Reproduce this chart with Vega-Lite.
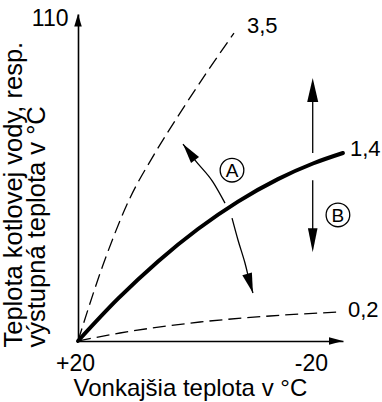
{
  "$schema": "https://vega.github.io/schema/vega-lite/v6.json",
  "width": 265,
  "height": 327,
  "autosize": {"type": "none"},
  "padding": {"left": 78, "top": 14, "right": 39, "bottom": 61},
  "background": "white",
  "config": {"view": {"stroke": null}, "font": "Liberation Sans"},
  "datasets": {
    "curves": [
      {"c": "3,5", "t": 20, "v": 20}, {"c": "3,5", "t": 15.71, "v": 41.21}, {"c": "3,5", "t": 11.24, "v": 59.35}, {"c": "3,5", "t": 6.78, "v": 72.47}, {"c": "3,5", "t": 2.49, "v": 83.63}, {"c": "3,5", "t": -2.15, "v": 95.08}, {"c": "3,5", "t": -6.78, "v": 105.96},
      {"c": "1,4", "t": 20, "v": 20}, {"c": "1,4", "t": 13.13, "v": 31.81}, {"c": "1,4", "t": 6.27, "v": 42.22}, {"c": "1,4", "t": -0.6, "v": 51.27}, {"c": "1,4", "t": -7.47, "v": 58.92}, {"c": "1,4", "t": -14.33, "v": 65.2}, {"c": "1,4", "t": -20.34, "v": 69.56}, {"c": "1,4", "t": -25.49, "v": 72.49},
      {"c": "0,2", "t": 20, "v": 20}, {"c": "0,2", "t": 12.79, "v": 22.23}, {"c": "0,2", "t": -0.94, "v": 25.3}, {"c": "0,2", "t": -12.96, "v": 26.98}, {"c": "0,2", "t": -24.63, "v": 28.09}
    ],
    "arc": [
      {"seg": 1, "t": 1.97, "v": 74.98}, {"seg": 1, "t": -0.09, "v": 70.51}, {"seg": 1, "t": -3.18, "v": 64.38}, {"seg": 1, "t": -5.24, "v": 58.51},
      {"seg": 2, "t": -6.44, "v": 54.33}, {"seg": 2, "t": -7.47, "v": 48.19}, {"seg": 2, "t": -8.67, "v": 41.77}, {"seg": 2, "t": -9.53, "v": 36.19}, {"seg": 2, "t": -10.04, "v": 33.4}
    ],
    "shafts": [
      {"t": -20.3, "v": 72.5, "v2": 92.0},
      {"t": -20.3, "v": 46.5, "v2": 64.9}
    ],
    "heads": [
      {"id": "yax", "t": 20, "v": 111.3},
      {"id": "xax", "t": -25.5, "v": 20},
      {"id": "up", "t": -20.3, "v": 93.4},
      {"id": "down", "t": -20.3, "v": 44.8},
      {"id": "arcTop", "t": 1.97, "v": 74.98},
      {"id": "arcBot", "t": -10.04, "v": 33.4}
    ],
    "marks": [
      {"label": "A", "t": -6.44, "v": 67.7},
      {"label": "B", "t": -24.63, "v": 55.2}
    ],
    "labels": [
      {"label": "3,5", "t": -9.01, "v": 106.0},
      {"label": "1,4", "t": -26.69, "v": 71.6},
      {"label": "0,2", "t": -26.35, "v": 26.7}
    ]
  },
  "encoding": {
    "x": {
      "field": "t", "type": "quantitative",
      "scale": {"domain": [20, -25.5], "nice": false, "zero": false},
      "axis": {
        "title": "Vonkajšia teplota v °C",
        "values": [20, -20],
        "labelExpr": "(datum.value > 0 ? '+' : '-') + abs(datum.value)",
        "grid": false, "ticks": false, "tickSize": 0,
        "labelFont": "Liberation Sans", "labelFontSize": 23, "labelColor": "black", "labelPadding": 29, "labelBaseline": "alphabetic", "labelAlign": "center",
        "labelOffset": {"condition": {"test": "datum.value > 0", "value": -3}, "value": 0},
        "labelFlush": false, "labelOverlap": false,
        "domainColor": "black", "domainWidth": 1.6,
        "titleFont": "Liberation Sans", "titleFontSize": 24, "titleFontWeight": "normal", "titleColor": "black",
        "titleX": -5, "titleY": 54, "titleAlign": "left", "titleBaseline": "alphabetic"
      }
    },
    "y": {
      "field": "v", "type": "quantitative",
      "scale": {"domain": [20, 111.3], "nice": false, "zero": false},
      "axis": {
        "title": ["Teplota kotlovej vody, resp.", "výstupná teplota v °C"],
        "values": [110],
        "grid": false, "ticks": false, "tickSize": 0,
        "labelFont": "Liberation Sans", "labelFontSize": 23, "labelColor": "black", "labelPadding": 10, "labelFlush": false,
        "domainColor": "black", "domainWidth": 1.6,
        "titleFont": "Liberation Sans", "titleFontSize": 25.5, "titleFontWeight": "normal", "titleColor": "black",
        "titleAngle": 270, "titleAlign": "left", "titleBaseline": "alphabetic",
        "titleX": -57, "titleY": 333, "titleLineHeight": 23
      }
    }
  },
  "layer": [
    {
      "data": {"name": "curves"},
      "transform": [{"filter": "datum.c != '1,4'"}],
      "mark": {"type": "line", "color": "black", "strokeWidth": 1.3, "strokeDash": [13, 6], "interpolate": "monotone"},
      "encoding": {"detail": {"field": "c"}, "order": {"field": "t", "sort": "descending"}}
    },
    {
      "data": {"name": "curves"},
      "transform": [{"filter": "datum.c == '1,4'"}],
      "mark": {"type": "line", "color": "black", "strokeWidth": 4, "strokeCap": "round", "interpolate": "monotone"},
      "encoding": {"order": {"field": "t", "sort": "descending"}}
    },
    {
      "data": {"name": "arc"},
      "mark": {"type": "line", "color": "black", "strokeWidth": 1.3, "interpolate": "monotone"},
      "encoding": {"detail": {"field": "seg"}, "order": {"field": "t", "sort": "descending"}}
    },
    {
      "data": {"name": "shafts"},
      "mark": {"type": "rule", "color": "black", "strokeWidth": 1.3},
      "encoding": {"y2": {"field": "v2"}}
    },
    {
      "data": {"name": "heads"},
      "transform": [{"filter": "datum.id == 'yax'"}],
      "mark": {"type": "point", "shape": "M0,0L0.3,1L-0.3,1Z", "size": 625, "angle": 0, "filled": true, "color": "black", "opacity": 1}
    },
    {
      "data": {"name": "heads"},
      "transform": [{"filter": "datum.id == 'xax'"}],
      "mark": {"type": "point", "shape": "M0,0L0.27,1L-0.27,1Z", "size": 784, "angle": 90, "filled": true, "color": "black", "opacity": 1}
    },
    {
      "data": {"name": "heads"},
      "transform": [{"filter": "datum.id == 'up'"}],
      "mark": {"type": "point", "shape": "M0,0L0.23,1L-0.23,1Z", "size": 2304, "angle": 0, "filled": true, "color": "black", "opacity": 1}
    },
    {
      "data": {"name": "heads"},
      "transform": [{"filter": "datum.id == 'down'"}],
      "mark": {"type": "point", "shape": "M0,0L0.2,1L-0.2,1Z", "size": 2304, "angle": 180, "filled": true, "color": "black", "opacity": 1}
    },
    {
      "data": {"name": "heads"},
      "transform": [{"filter": "datum.id == 'arcTop'"}],
      "mark": {"type": "point", "shape": "M0,0L0.25,1L-0.25,1Z", "size": 1600, "angle": -37, "filled": true, "color": "black", "opacity": 1}
    },
    {
      "data": {"name": "heads"},
      "transform": [{"filter": "datum.id == 'arcBot'"}],
      "mark": {"type": "point", "shape": "M0,0L0.25,1L-0.25,1Z", "size": 1600, "angle": 163, "filled": true, "color": "black", "opacity": 1}
    },
    {
      "data": {"name": "marks"},
      "mark": {"type": "point", "shape": "circle", "size": 560, "filled": false, "stroke": "black", "strokeWidth": 1.3, "opacity": 1}
    },
    {
      "data": {"name": "marks"},
      "mark": {"type": "text", "fontSize": 19, "color": "black", "align": "center", "baseline": "middle", "dy": 1},
      "encoding": {"text": {"field": "label"}}
    },
    {
      "data": {"name": "labels"},
      "mark": {"type": "text", "fontSize": 22, "color": "black", "align": "left", "baseline": "alphabetic"},
      "encoding": {"text": {"field": "label"}}
    }
  ]
}
